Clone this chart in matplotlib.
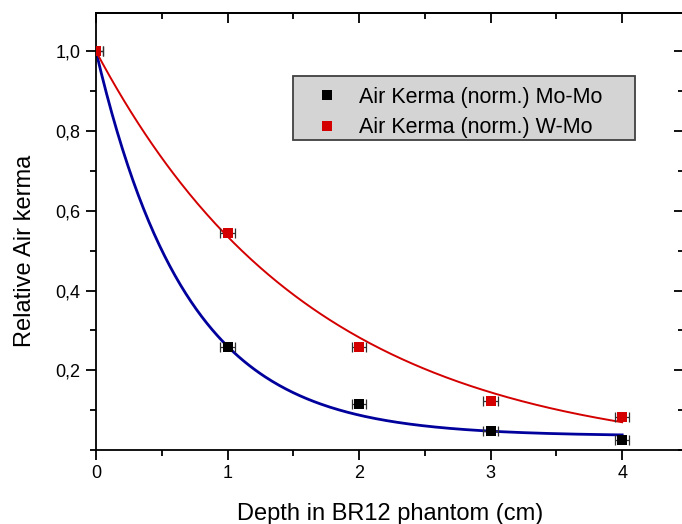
import numpy as np
import matplotlib
matplotlib.use("Agg")
import matplotlib.pyplot as plt
from matplotlib.ticker import MultipleLocator, NullFormatter
from matplotlib.lines import Line2D
from matplotlib.patches import Rectangle

plt.rcParams['font.family'] = ['Liberation Sans', 'DejaVu Sans']

# Data
depth = [0, 1, 2, 3, 4]
mo_mo = [1.0, 0.258, 0.115, 0.047, 0.025]
w_mo = [1.0, 0.545, 0.258, 0.124, 0.084]
x_err = [0.055, 0.055, 0.055, 0.055, 0.055]

# Exponential-decay fit parameters (y = y0 + A*exp(-x/t))
mo_fit = dict(y0=0.035, A=0.965, t=0.687)
w_fit = dict(y0=-0.02, A=1.02, t=1.645)

xticks = [0, 1, 2, 3, 4]
xtick_labels = ['0', '1', '2', '3', '4']
yticks = [0.2, 0.4, 0.6, 0.8, 1.0]
ytick_labels = ['0,2', '0,4', '0,6', '0,8', '1,0']

legend_labels = ['Air Kerma (norm.) Mo-Mo', 'Air Kerma (norm.) W-Mo']

fig = plt.figure(figsize=(6.82, 5.24), dpi=100)
ax = fig.add_axes([96/682, 74/524, (684-96)/682, (450-13)/524])

RED = '#d40000'
BLUE = '#00009c'

xf = np.linspace(0, 4, 300)
def model(x, p):
    return p['y0'] + p['A'] * np.exp(-x / p['t'])

ax.plot(xf, model(xf, mo_fit), color=BLUE, lw=2.0, zorder=2)
ax.plot(xf, model(xf, w_fit), color=RED, lw=1.4, zorder=2)

ax.errorbar(depth, mo_mo, xerr=x_err, fmt='none', ecolor='#303030', elinewidth=0.9,
            capsize=3.5, capthick=0.9, zorder=3)
ax.errorbar(depth, w_mo, xerr=x_err, fmt='none', ecolor='#303030', elinewidth=0.9,
            capsize=3.5, capthick=0.9, zorder=3)
ax.plot(depth, mo_mo, 's', color='black', ms=6.5, mew=0, zorder=4)
ax.plot(depth, w_mo, 's', color=RED, ms=6.5, mew=0, zorder=5)

ax.set_xlim(0, 4.47)
ax.set_ylim(0, 1.096)
ax.set_xticks(xticks)
ax.set_xticklabels(xtick_labels)
ax.set_yticks(yticks)
ax.set_yticklabels(ytick_labels)
ax.xaxis.set_minor_locator(MultipleLocator(0.5))
ax.yaxis.set_minor_locator(MultipleLocator(0.1))

ax.tick_params(axis='both', which='major', direction='out', length=7, width=1.3,
               labelsize=13, pad=4)
ax.tick_params(axis='both', which='minor', direction='out', length=4, width=1.3)

# top / right ticks pointing inward, no labels
secx = ax.secondary_xaxis('top')
secx.set_xticks(xticks)
secx.xaxis.set_major_formatter(NullFormatter())
secx.xaxis.set_minor_locator(MultipleLocator(0.5))
secx.tick_params(which='major', direction='in', length=7, width=1.3)
secx.tick_params(which='minor', direction='in', length=4, width=1.3)
secx.spines['top'].set_linewidth(1.3)
secy = ax.secondary_yaxis('right')
secy.set_yticks(yticks)
secy.yaxis.set_major_formatter(NullFormatter())
secy.yaxis.set_minor_locator(MultipleLocator(0.1))
secy.tick_params(which='major', direction='in', length=7, width=1.3)
secy.tick_params(which='minor', direction='in', length=4, width=1.3)
secy.spines['right'].set_linewidth(1.3)

for s in ax.spines.values():
    s.set_linewidth(1.3)

ax.set_xlabel('Depth in BR12 phantom (cm)', fontsize=17, labelpad=15)
ax.set_ylabel('Relative Air kerma', fontsize=17)
ax.yaxis.set_label_coords(-0.102, 0.455)

# legend frame (wider on the right, as in the original)
frame = Rectangle((293/682, 1 - 140/524), (635-293)/682, (140-76)/524,
                  transform=fig.transFigure, facecolor='#d4d4d4', edgecolor='#404040',
                  lw=1.3, zorder=6)
ax.add_patch(frame)
frame.set_clip_on(False)

handles = [Line2D([], [], marker='s', color='black', ls='none', ms=7, mew=0),
           Line2D([], [], marker='s', color=RED, ls='none', ms=7, mew=0)]
leg = ax.legend(handles, legend_labels, loc='upper left',
                bbox_to_anchor=(293/682, 1 - 76/524), bbox_transform=fig.transFigure,
                fontsize=15.5, frameon=False, borderpad=0.5,
                handletextpad=0.35, handlelength=2.2, labelspacing=0.44, borderaxespad=0)
leg.set_zorder(7)

fig.savefig('out.png', dpi=100)
